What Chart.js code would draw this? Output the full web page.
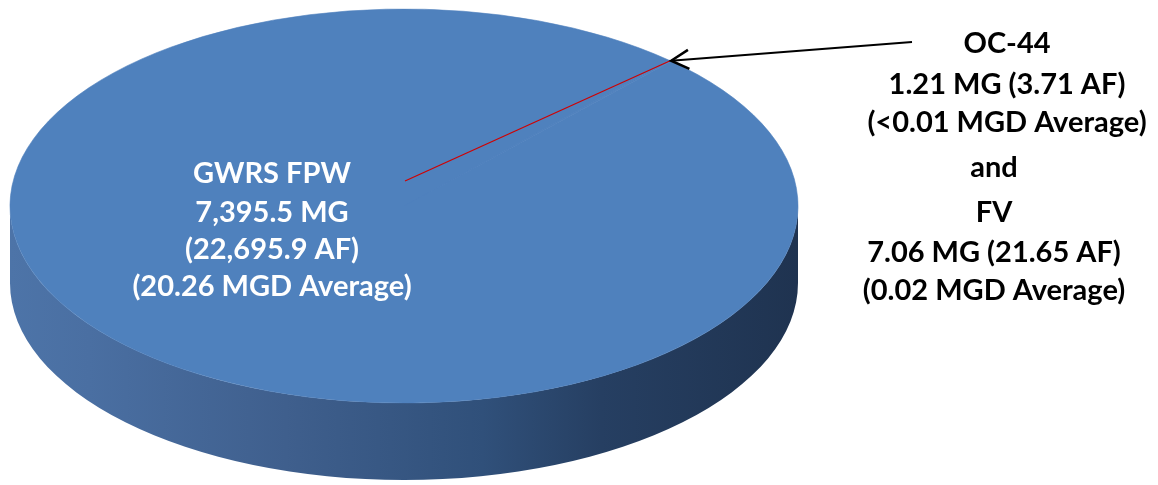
<!DOCTYPE html>
<html><head><meta charset="utf-8">
<script src="https://cdn.jsdelivr.net/npm/chart.js@4/dist/chart.umd.min.js"></script>
<style>html,body{margin:0;padding:0;background:#fff;overflow:hidden}canvas{display:block}</style>
</head><body>
<canvas id="c" width="1158" height="485"></canvas>
<script>
// ---- data ----
const categories = ['GWRS FPW', 'OC-44', 'FV'];
const volumesMG = [7395.5, 1.21, 7.06];
const volumesAF = [22695.9, 3.71, 21.65];
const mgdAverage = ['20.26', '<0.01', '0.02'];

const fmt = (v, d) => v.toLocaleString('en-US', {minimumFractionDigits: d, maximumFractionDigits: d});
const mainLabelLines = [
  categories[0],
  fmt(volumesMG[0], 1) + ' MG',
  '(' + fmt(volumesAF[0], 1) + ' AF)',
  '(' + mgdAverage[0] + ' MGD Average)'
];
const sideLabelA = [
  categories[1],
  fmt(volumesMG[1], 2) + ' MG (' + fmt(volumesAF[1], 2) + ' AF)',
  '(' + mgdAverage[1] + ' MGD Average)'
];
const sideLabelB = [
  'and',
  categories[2],
  fmt(volumesMG[2], 2) + ' MG (' + fmt(volumesAF[2], 2) + ' AF)',
  '(' + mgdAverage[2] + ' MGD Average)'
];

// ---- styling ----
const ELL = {cx: 404, cy: 206, rx: 394, ry: 197, depth: 77};
const TOP_COLOR = '#4f81bd';
const FONT = 'bold 29px Lato, "Open Sans", sans-serif';

const pie3d = {
  id: 'pie3d',
  beforeDatasetsDraw(chart) {
    const ctx = chart.ctx;
    const arcs = chart.getDatasetMeta(0).data;
    const r = arcs[0].outerRadius, x0 = arcs[0].x, y0 = arcs[0].y;
    const sx = ELL.rx / r, sy = ELL.ry / r;
    ctx.save();
    ctx.translate(ELL.cx, ELL.cy);
    ctx.scale(sx, sy);
    ctx.translate(-x0, -y0);
    const D = ELL.depth / sy;
    const g = ctx.createLinearGradient(x0 - r, 0, x0 + r, 0);
    g.addColorStop(0, '#4d74a8');
    g.addColorStop(0.1, '#4a6fa2');
    g.addColorStop(0.35, '#3f5f8d');
    g.addColorStop(0.6, '#30507a');
    g.addColorStop(0.75, '#263f62');
    g.addColorStop(1, '#1f3350');
    ctx.fillStyle = g;
    const TAU = Math.PI * 2;
    arcs.forEach(arc => {
      const s = arc.startAngle, e = arc.endAngle;
      for (let k = -2; k <= 2; k++) {
        const lo = Math.max(s, TAU * k), hi = Math.min(e, TAU * k + Math.PI);
        if (hi > lo) {
          ctx.beginPath();
          ctx.arc(x0, y0, r, lo, hi, false);
          ctx.arc(x0, y0 + D, r, hi, lo, true);
          ctx.closePath();
          ctx.fill();
        }
      }
    });
  },
  afterDatasetsDraw(chart) {
    const ctx = chart.ctx;
    ctx.restore();
    const arcs = chart.getDatasetMeta(0).data;
    // rim point of the small slices (OC-44 / FV)
    const m = (arcs[1].startAngle + arcs[2].endAngle) / 2;
    const tx = ELL.cx + ELL.rx * Math.cos(m), ty = ELL.cy + ELL.ry * Math.sin(m);
    // red leader line
    ctx.save();
    ctx.strokeStyle = '#d00000';
    ctx.lineWidth = 1.2;
    ctx.beginPath();
    ctx.moveTo(405, 181);
    ctx.lineTo(tx, ty);
    ctx.stroke();
    // black arrow
    const ax = 912, ay = 42;
    ctx.strokeStyle = '#000';
    ctx.lineWidth = 2;
    ctx.beginPath();
    ctx.moveTo(ax, ay);
    ctx.lineTo(tx + 1, ty);
    ctx.stroke();
    const ang = Math.atan2(ay - ty, ax - tx);
    const L = 20, spread = 0.5;
    ctx.lineWidth = 2.5;
    ctx.beginPath();
    ctx.moveTo(tx + 1 + L * Math.cos(ang - spread), ty + L * Math.sin(ang - spread));
    ctx.lineTo(tx + 1, ty);
    ctx.lineTo(tx + 1 + L * Math.cos(ang + spread), ty + L * Math.sin(ang + spread));
    ctx.stroke();
    // labels
    ctx.font = FONT;
    ctx.textAlign = 'center';
    ctx.textBaseline = 'alphabetic';
    ctx.fillStyle = '#ffffff';
    const mainY = [183, 222, 259, 296];
    mainLabelLines.forEach((t, i) => ctx.fillText(t, 272, mainY[i]));
    ctx.fillStyle = '#000000';
    const aY = [53, 94, 132];
    sideLabelA.forEach((t, i) => ctx.fillText(t, 1007, aY[i]));
    const bY = [177, 222, 262, 300];
    sideLabelB.forEach((t, i) => ctx.fillText(t, 994, bY[i]));
    ctx.restore();
  }
};

new Chart(document.getElementById('c'), {
  type: 'pie',
  data: {
    labels: categories,
    datasets: [{
      data: volumesMG,
      backgroundColor: [TOP_COLOR, TOP_COLOR, TOP_COLOR],
      borderColor: TOP_COLOR,
      borderWidth: 0.5,
      clip: false
    }]
  },
  options: {
    responsive: false,
    animation: false,
    rotation: 42.7,
    layout: {padding: 0},
    plugins: {legend: {display: false}, tooltip: {enabled: false}}
  },
  plugins: [pie3d]
});
</script>
</body></html>
